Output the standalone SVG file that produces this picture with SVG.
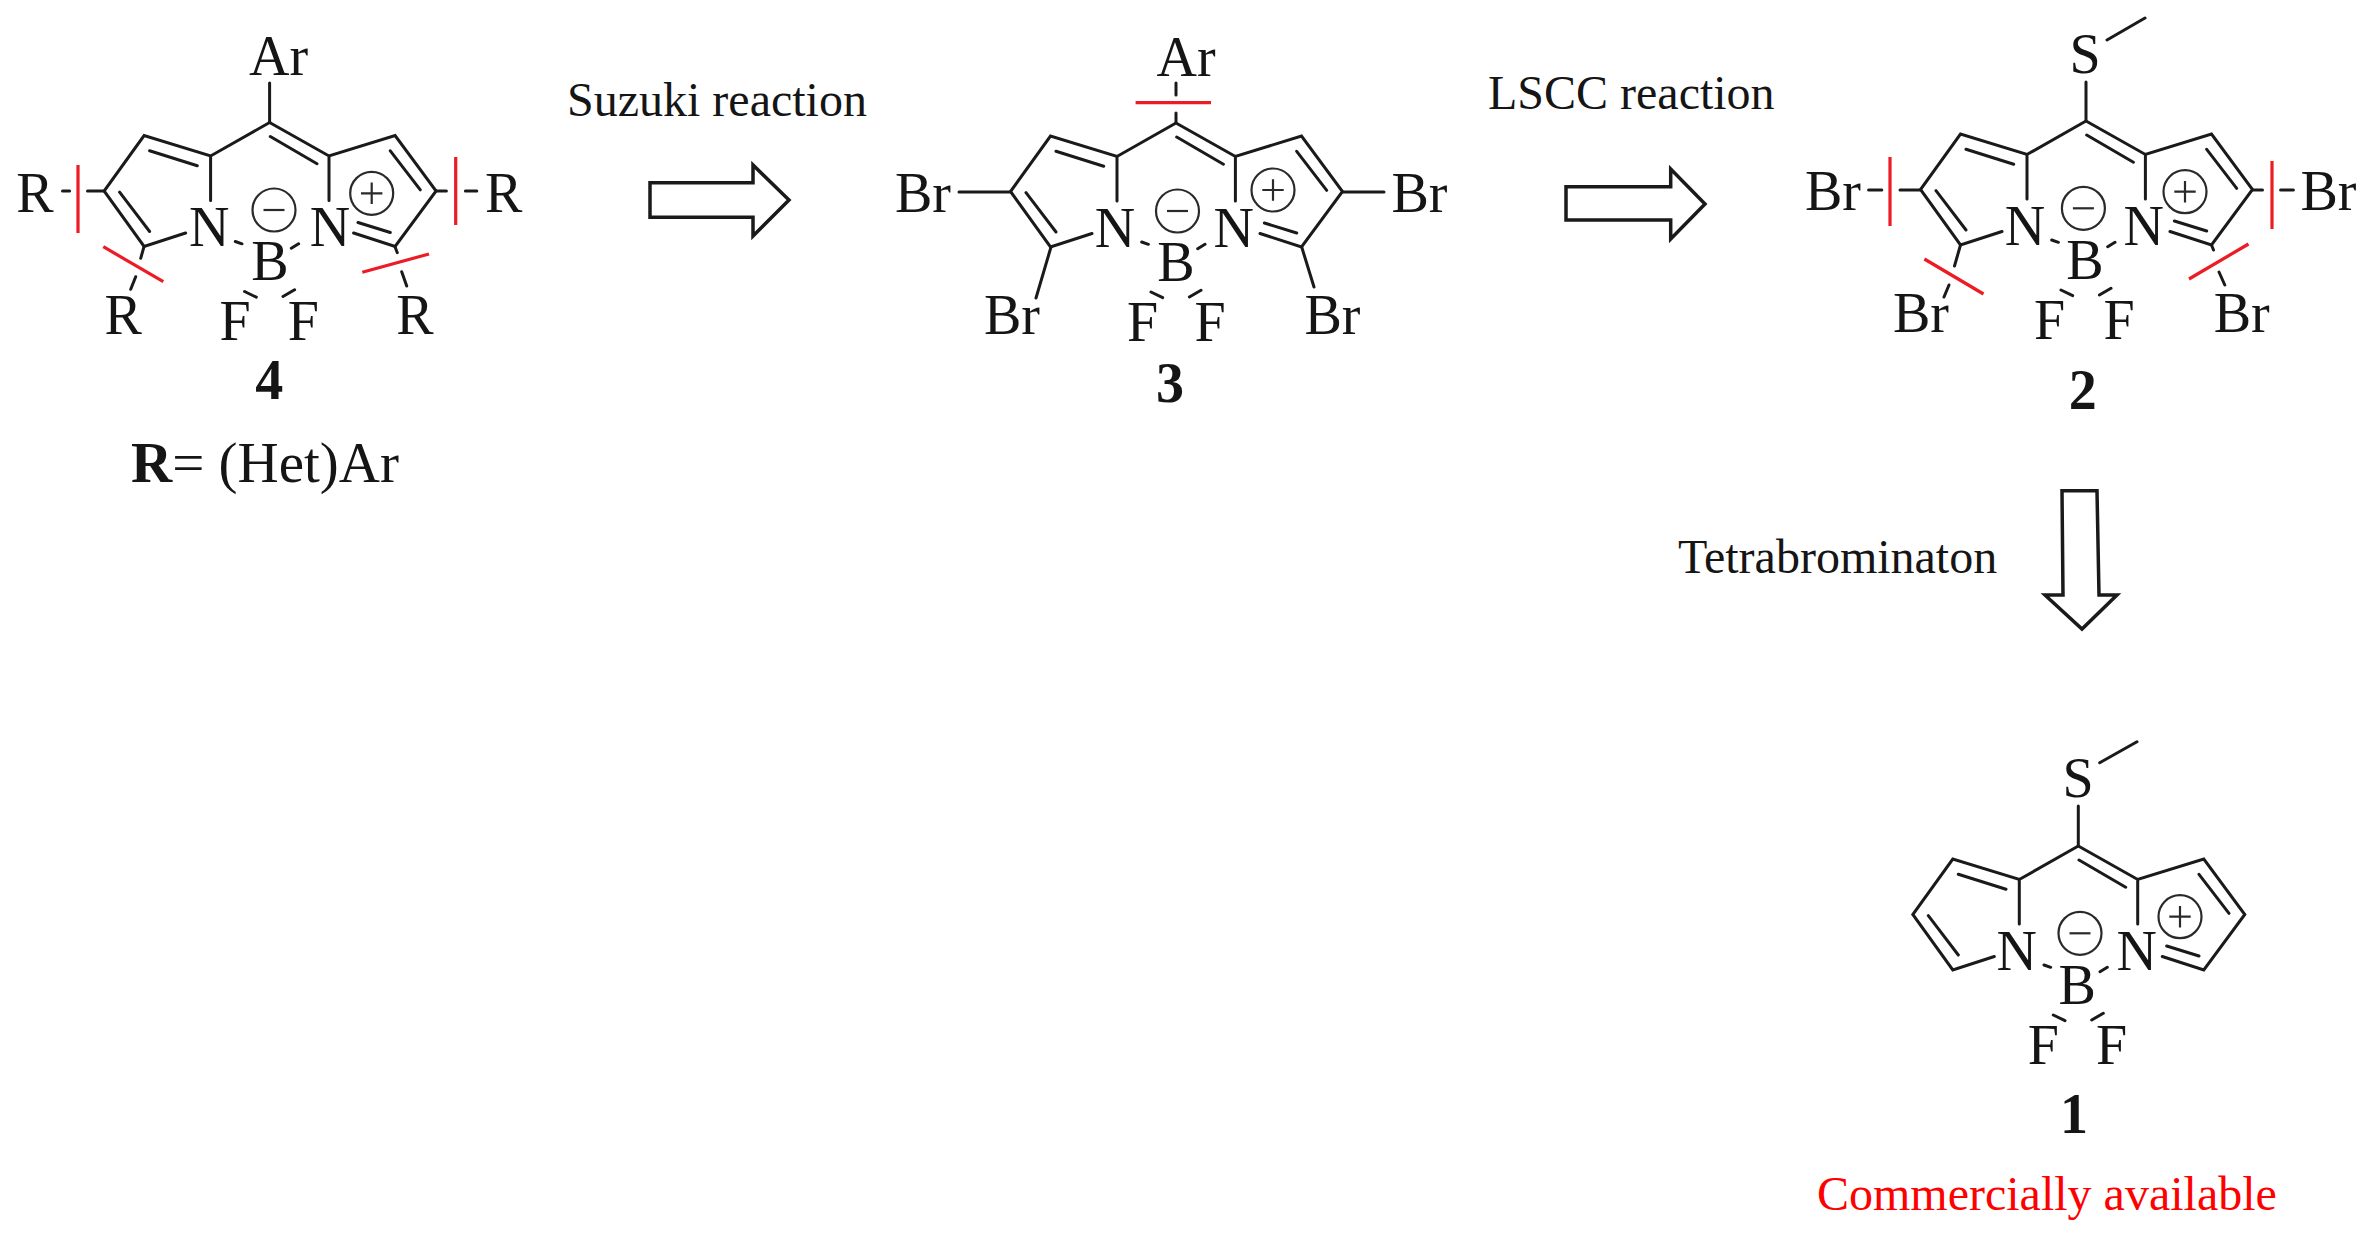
<svg xmlns="http://www.w3.org/2000/svg" xmlns:xlink="http://www.w3.org/1999/xlink" width="2371" height="1233" viewBox="0 0 2371 1233">
<style>
text{font-family:"Liberation Serif","Times New Roman",serif;fill:#151515}
.a{font-size:56px;text-anchor:middle}
.n{font-size:56px;font-weight:bold;text-anchor:middle}
.l{font-size:48px}
.b{fill:none;stroke:#1a1a1a;stroke-width:3;stroke-linecap:round;stroke-linejoin:miter}
.c{fill:none;stroke:#2a2a2a;stroke-width:2.2}
.r{fill:none;stroke:#ed1c24;stroke-width:3.2}
.ar{fill:#fff;stroke:#1a1a1a;stroke-width:3.5;stroke-linejoin:miter}
</style>
<defs>
<path id="core" class="b" d="M0 0L-59 33.5L-125.500 13L-165.500 68.500L-125.500 124L-84 110.500M-59 33.500V78M0 0L59.400 33.500L125.500 13L166.500 68.500L125.500 124L84 110.500M59.400 33.500V78M-120 28.300L-72.300 43.300M.7 14L47.400 41.300M120.700 28.300L150.700 67.300M-150 69.700L-120 109M88.400 100L120.700 110M-34.300 119L-27.600 121.300M21.700 125.700L29 121.300M-25 169L-13.300 174.700M13.400 174L25 167.300"/>
<g id="minus"><circle class="c" r="21.500"/><path class="c" d="M-10.500 0H10.500"/></g>
<g id="plus"><circle class="c" r="21.500"/><path class="c" d="M-10.700 0H10.700M0 -10.700V10.700"/></g>
</defs>
<g id="connectors">
<path id="arrow-suzuki" class="ar" d="M650 182.700H753V165L789 200L753 236V217.300H650Z"/>
<path id="arrow-lscc" class="ar" d="M1566 186.700H1670.700V169L1705 204L1670.700 239V220H1566Z"/>
<path id="arrow-tetra" class="ar" d="M2062 490.700H2097L2099 595H2117L2082 629L2045 595H2063Z"/>
</g>
<g id="compound-4">
<use xlink:href="#core" href="#core" x="269.600" y="122.500"/>
<use xlink:href="#minus" href="#minus" x="274" y="210"/>
<use xlink:href="#plus" href="#plus" x="371.700" y="193.300"/>
<path class="b" d="M269.600 83V122.500M104.100 191H87.500M69.600 191H62.500M436.100 191H446.400M465.400 191H476.800M144 246.700L140.700 258.300M135.700 276.700L130.700 289.300M395 246.700L397.300 252.700M401.700 271.700L406.700 286"/>
<path class="r" d="M78 165V233M455.700 157V225M103.300 246.700L163.300 281.700M362.300 272.300L429 254"/>
<text class="a" x="278.600" y="75">Ar</text>
<text class="a" x="35" y="212">R</text>
<text class="a" x="503.600" y="212">R</text>
<text class="a" x="123.300" y="334">R</text>
<text class="a" x="415" y="334">R</text>
<text class="a" x="209.300" y="246">N</text>
<text class="a" x="330" y="246">N</text>
<text class="a" x="270" y="280">B</text>
<text class="a" x="235" y="340">F</text>
<text class="a" x="303.300" y="340">F</text>
<text class="n" x="269.300" y="399.300">4</text>
<text x="131" y="482" font-size="57"><tspan font-weight="bold">R</tspan>= (Het)Ar</text>
</g>
<g id="label-suzuki"><text class="l" x="567" y="116">Suzuki reaction</text></g>
<g id="compound-3">
<use xlink:href="#core" href="#core" x="1176" y="123"/>
<use xlink:href="#minus" href="#minus" x="1177.500" y="211"/>
<use xlink:href="#plus" href="#plus" x="1273" y="190"/>
<path class="b" d="M1176 83V95M1176 113V123M959 192H1010.500M1342.500 192H1384M1051 247L1036 298M1301.700 247L1314 287"/>
<path class="r" d="M1135.600 102.700H1211"/>
<text class="a" x="1186" y="76">Ar</text>
<text class="a" x="923" y="212">Br</text>
<text class="a" x="1419.500" y="212">Br</text>
<text class="a" x="1012" y="334">Br</text>
<text class="a" x="1332.500" y="334">Br</text>
<text class="a" x="1115" y="246.700">N</text>
<text class="a" x="1233.700" y="246.700">N</text>
<text class="a" x="1176" y="281">B</text>
<text class="a" x="1142.700" y="341">F</text>
<text class="a" x="1210" y="341">F</text>
<text class="n" x="1170" y="402">3</text>
</g>
<g id="label-lscc"><text class="l" x="1488" y="109">LSCC reaction</text></g>
<g id="compound-2">
<use xlink:href="#core" href="#core" x="2086" y="121"/>
<use xlink:href="#minus" href="#minus" x="2083.400" y="208.300"/>
<use xlink:href="#plus" href="#plus" x="2185" y="191.700"/>
<path class="b" d="M2086 82V121M2107 40L2145 18M1868.600 190H1881.800M1900 190H1920.500M2252.500 190H2262.500M2280.600 190H2293.400M1960.500 245L1954.500 266M1949 285L1944 297M2211.500 245L2213.500 250M2219 272L2224.800 285"/>
<path class="r" d="M1890 157V226M2272 161V229M1924.400 259L1983.500 294M2189 279L2248.500 244"/>
<text class="a" x="2085" y="73">S</text>
<text class="a" x="1833" y="210">Br</text>
<text class="a" x="2328.400" y="210">Br</text>
<text class="a" x="1921" y="332">Br</text>
<text class="a" x="2241.700" y="332">Br</text>
<text class="a" x="2025" y="244.500">N</text>
<text class="a" x="2143.700" y="244.500">N</text>
<text class="a" x="2085" y="278.500">B</text>
<text class="a" x="2049.500" y="339">F</text>
<text class="a" x="2119" y="339">F</text>
<text class="n" x="2082.700" y="409">2</text>
</g>
<g id="label-tetra"><text class="l" x="1678" y="573">Tetrabrominaton</text></g>
<g id="compound-1">
<use xlink:href="#core" href="#core" x="2078.300" y="846"/>
<use xlink:href="#minus" href="#minus" x="2080" y="933.300"/>
<use xlink:href="#plus" href="#plus" x="2180" y="916.700"/>
<path class="b" d="M2078.300 806V846M2099.700 762.700L2137 741.700"/>
<text class="a" x="2078" y="797">S</text>
<text class="a" x="2016.700" y="970">N</text>
<text class="a" x="2136.700" y="970">N</text>
<text class="a" x="2077.300" y="1004">B</text>
<text class="a" x="2043.300" y="1064.300">F</text>
<text class="a" x="2111.700" y="1064.300">F</text>
<text class="n" x="2074" y="1132.700">1</text>
<text x="1817" y="1210" font-size="48" style="fill:#ff0000">Commercially available</text>
</g>
</svg>
